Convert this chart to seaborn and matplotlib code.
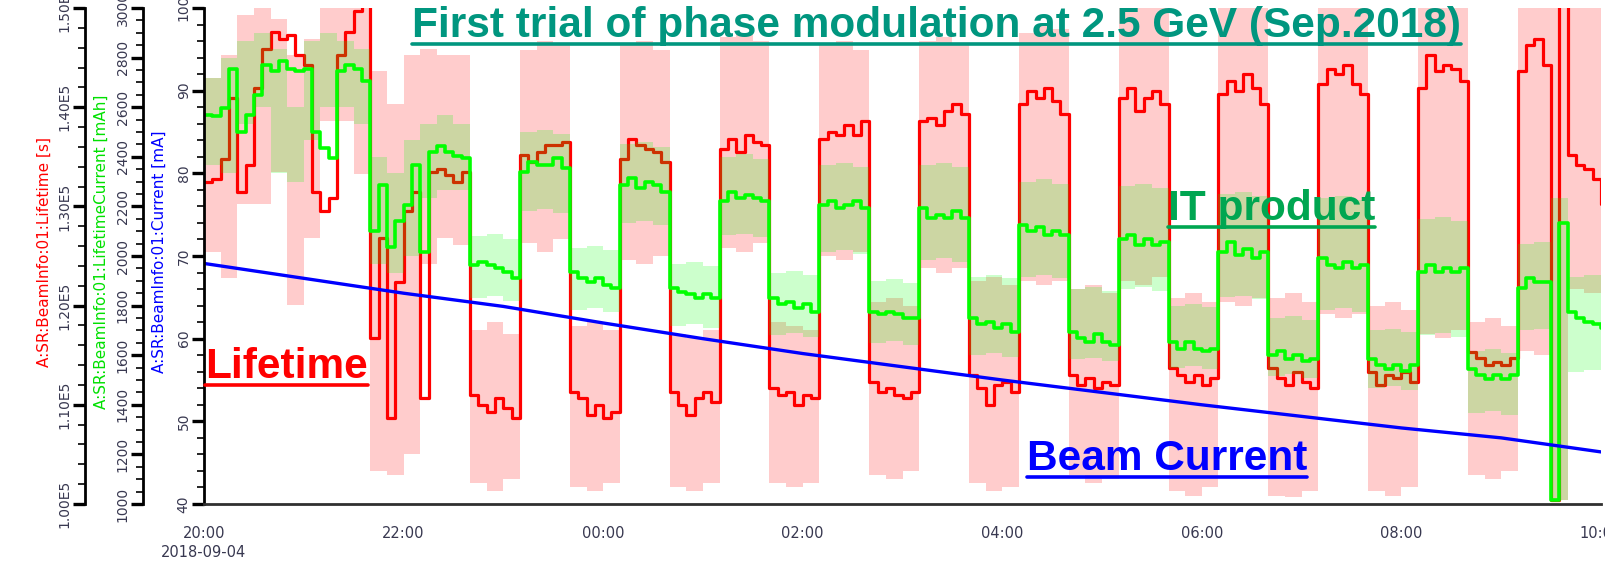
import numpy as np
import pandas as pd
import matplotlib
matplotlib.use('Agg')
import matplotlib.pyplot as plt
import matplotlib.dates as mdates
from matplotlib.lines import Line2D
from matplotlib.ticker import MultipleLocator, FuncFormatter
import seaborn as sns

sns.set_style('white')
plt.rcParams['font.family'] = ['DejaVu Sans']

# Lifetime [ks], one value per 5 min from 20:00 (2018-09-04) to 10:00
lifetime_ks = [
    132.5, 132.8, 134.8, 140.9, 131.5, 134.2,
    141.9, 145.9, 147.6, 146.9, 147.3, 145.3,
    144.3, 131.5, 129.5, 130.8, 145.3, 147.6,
    149.7, 150.8, 116.7, 126.8, 108.7, 122.4,
    129.5, 131.5, 110.7, 133.5, 133.8, 133.2,
    132.5, 133.5,
    111.0, 110.0, 109.3, 110.7, 109.7, 108.7,
    135.2, 134.5, 135.5, 136.2, 136.2, 136.5,
    111.3, 110.7, 109.0, 110.0, 108.7, 109.3,
    134.8, 136.8, 136.2, 135.8, 135.5, 134.5,
    111.3, 110.0, 109.0, 110.7, 111.3, 110.3,
    135.8, 136.8, 135.5, 137.2, 136.5, 136.2,
    111.7, 111.0, 111.3, 110.0, 111.0, 110.7,
    136.8, 137.5, 137.2, 138.2, 137.2, 138.6,
    112.3, 111.3, 111.7, 111.0, 110.7, 111.3,
    138.6, 138.9, 138.2, 139.6, 140.3, 139.3,
    113.0, 111.7, 110.0, 112.0, 112.3, 111.3,
    140.3, 141.6, 140.9, 141.9, 140.6, 139.3,
    113.0, 112.0, 112.7, 111.7, 112.3, 112.0,
    140.9, 141.9, 139.6, 140.9, 141.6, 140.3,
    113.7, 113.0, 112.3, 113.0, 112.0, 112.7,
    141.3, 142.6, 141.6, 143.3, 141.9, 140.3,
    113.7, 112.7, 112.0, 113.3, 112.3, 111.7,
    142.3, 143.9, 143.3, 144.3, 142.3, 141.3,
    113.3, 112.0, 113.0, 112.7, 113.3, 112.3,
    141.9, 145.3, 143.6, 144.3, 143.9, 142.6,
    115.3, 114.7, 114.0, 114.3, 114.0, 114.7,
    143.6, 146.3, 146.9, 144.3, 100.4, 151.7,
    135.2, 134.2, 133.8, 132.8, 130.2,
]

# IT product [mAh], same 5 min grid
it_mah = [
    2570, 2565, 2595, 2755, 2500, 2570,
    2650, 2770, 2745, 2785, 2755, 2745,
    2755, 2500, 2435, 2395, 2745, 2770,
    2755, 2705, 2100, 2285, 2035, 2140,
    2205, 2365, 2015, 2420, 2445, 2420,
    2405, 2395,
    1965, 1975, 1965, 1950, 1935, 1910,
    2340, 2380, 2365, 2365, 2395, 2355,
    1935, 1910, 1895, 1910, 1885, 1870,
    2285, 2315, 2275, 2300, 2285, 2260,
    1870, 1855, 1845, 1830, 1845, 1830,
    2220, 2260, 2235, 2245, 2235, 2220,
    1830, 1805, 1815, 1790, 1805, 1775,
    2205, 2220, 2195, 2205, 2220, 2195,
    1775, 1765, 1775, 1765, 1750, 1750,
    2195, 2155, 2165, 2155, 2180, 2155,
    1750, 1725, 1735, 1710, 1725, 1695,
    2125, 2100, 2115, 2085, 2100, 2085,
    1695, 1670, 1655, 1685, 1655, 1640,
    2070, 2085, 2045, 2070, 2045, 2055,
    1655, 1625, 1655, 1625, 1615, 1625,
    2015, 2055, 2005, 2030, 1990, 2015,
    1600, 1615, 1585, 1600, 1575, 1585,
    1990, 1965, 1950, 1975, 1950, 1965,
    1585, 1560, 1545, 1560, 1535, 1560,
    1935, 1965, 1935, 1950, 1935, 1950,
    1545, 1520, 1505, 1520, 1505, 1520,
    1870, 1910, 1895, 1895, 1015, 2135,
    1775, 1750, 1735, 1725, 1710,
]

# min / max envelopes, one value per 10 min
life_lo_ks = [
    125.4, 122.8, 130.2, 130.2, 133.5, 120.1,
    126.8, 138.6, 138.6, 133.3, 103.3, 102.9,
    105.0, 124.2, 126.8, 126.1, 102.1, 101.3,
    102.5, 126.3, 125.4, 126.7, 101.7, 101.3,
    102.1, 124.6, 124.2, 125.0, 101.7, 101.3,
    102.1, 125.8, 125.4, 126.3, 102.1, 101.7,
    102.1, 125.0, 124.6, 125.4, 102.9, 102.5,
    103.3, 123.8, 123.3, 123.8, 102.1, 101.3,
    101.7, 122.5, 122.1, 122.5, 102.9, 102.1,
    102.5, 122.5, 122.1, 122.9, 101.3, 100.8,
    101.7, 120.4, 120.0, 120.8, 100.8, 100.7,
    101.3, 119.2, 118.8, 119.2, 101.3, 100.8,
    101.7, 117.1, 116.7, 117.5, 102.9, 102.5,
    103.3, 115.4, 115.0, 100.4, 121.7, 121.3,
    121.7,
]
life_hi_ks = [
    142.9, 145.3, 149.3, 150.0, 148.9, 145.3,
    146.9, 150.0, 150.0, 150.0, 143.6, 140.3,
    145.3, 145.9, 145.3, 145.3, 117.5, 118.3,
    117.1, 145.8, 146.7, 146.3, 117.9, 118.3,
    117.5, 146.3, 146.7, 145.8, 117.1, 116.7,
    117.5, 147.1, 147.5, 146.7, 118.3, 117.9,
    117.5, 146.3, 146.7, 145.8, 120.4, 120.8,
    120.0, 146.7, 147.1, 146.3, 122.5, 122.9,
    122.1, 147.5, 148.3, 147.9, 121.7, 122.1,
    121.3, 150.0, 150.0, 150.0, 120.8, 121.3,
    120.4, 150.0, 150.0, 150.0, 120.8, 121.3,
    120.4, 150.0, 150.0, 150.0, 120.0, 120.4,
    119.6, 150.0, 150.0, 150.0, 118.3, 118.8,
    117.9, 150.0, 150.0, 150.0, 150.0, 150.0,
    150.0,
]
it_lo_mah = [
    2367, 2333, 2533, 2600, 2333, 2300,
    2467, 2600, 2600, 2533, 1967, 1933,
    2000, 2233, 2267, 2267, 1830, 1840,
    1820, 2183, 2190, 2175, 1783, 1790,
    1775, 2133, 2140, 2125, 1717, 1725,
    1710, 2083, 2090, 2075, 1683, 1690,
    1675, 2017, 2025, 2010, 1650, 1657,
    1643, 1983, 1990, 1975, 1600, 1607,
    1593, 1917, 1925, 1910, 1583, 1590,
    1577, 1867, 1875, 1860, 1550, 1557,
    1543, 1833, 1840, 1825, 1517, 1525,
    1510, 1783, 1790, 1775, 1467, 1475,
    1460, 1683, 1690, 1675, 1367, 1375,
    1360, 1700, 1707, 1017, 1533, 1540,
    1525,
]
it_hi_mah = [
    2717, 2800, 2867, 2900, 2833, 2600,
    2867, 2900, 2867, 2833, 2400, 2333,
    2467, 2533, 2567, 2533, 2080, 2090,
    2070, 2500, 2510, 2490, 2033, 2040,
    2025, 2450, 2460, 2440, 1967, 1975,
    1960, 2400, 2410, 2390, 1933, 1940,
    1925, 2367, 2375, 2360, 1900, 1907,
    1893, 2367, 2375, 2360, 1917, 1925,
    1910, 2300, 2310, 2290, 1867, 1875,
    1860, 2283, 2290, 2275, 1800, 1807,
    1793, 2250, 2257, 2243, 1750, 1757,
    1743, 2233, 2240, 2225, 1700, 1707,
    1693, 2150, 2157, 2143, 1617, 1625,
    1610, 2050, 2057, 2233, 1917, 1925,
    1910,
]

# beam current [mA], hourly
current_ma = [69.1, 67.3, 65.5, 63.9, 61.9, 60.0, 58.2, 56.6,
              55.0, 53.5, 52.0, 50.6, 49.2, 48.0, 46.3]

tick_times = ['20:00\n2018-09-04', '22:00', '00:00', '02:00', '04:00',
              '06:00', '08:00', '10:00']

start = pd.Timestamp('2018-09-04 20:00')
end = pd.Timestamp('2018-09-05 10:00')
t_line = pd.date_range(start, periods=len(lifetime_ks), freq='5min')
t_band = pd.date_range(start, periods=len(life_lo_ks), freq='10min')
t_cur = pd.date_range(start, periods=len(current_ma), freq='h')

W, H = 1605, 561
fig = plt.figure(figsize=(W / 100, H / 100), dpi=100)
fig.patch.set_facecolor('white')
ax = fig.add_axes([204 / W, 1 - 504 / H, 1397 / W, 496 / H])
ax_life = ax.twinx()
ax_it = ax.twinx()
ax_life.set_zorder(1)
ax_it.set_zorder(2)
ax.set_zorder(3)
for a in (ax, ax_life, ax_it):
    a.patch.set_visible(False)

lbl_col = '#383850'

# lifetime
ax_life.fill_between(t_band, np.array(life_lo_ks) * 1e3, np.array(life_hi_ks) * 1e3,
                     step='post', color='#ff0000', alpha=0.2, lw=0)
sns.lineplot(x=t_line, y=np.array(lifetime_ks) * 1e3, ax=ax_life, color='#ff0000',
             lw=2.3, drawstyle='steps-post', estimator=None)
# IT product
ax_it.fill_between(t_band, it_lo_mah, it_hi_mah, step='post',
                   color='#00ff00', alpha=0.2, lw=0)
sns.lineplot(x=t_line, y=it_mah, ax=ax_it, color='#00ff00', lw=2.6,
             drawstyle='steps-post', estimator=None)
# current
sns.lineplot(x=t_cur, y=current_ma, ax=ax, color='#0000ff', lw=2.4, estimator=None)

ax.set_xlim(start, end)
ax.set_ylim(40, 100)
ax_it.set_ylim(1000, 3000)
ax_life.set_ylim(1.0e5, 1.5e5)

ax.yaxis.set_major_locator(MultipleLocator(10))
ax.yaxis.set_minor_locator(MultipleLocator(2))
ax_it.yaxis.set_major_locator(MultipleLocator(200))
ax_it.yaxis.set_minor_locator(MultipleLocator(50))
ax_life.yaxis.set_major_locator(MultipleLocator(1e4))
ax_life.yaxis.set_minor_locator(MultipleLocator(2e3))
ax_life.yaxis.set_major_formatter(FuncFormatter(lambda v, p: f'{v / 1e5:.2f}E5'))
ax_it.yaxis.set_major_formatter(FuncFormatter(lambda v, p: f'{v:.0f}'))

axes_cfg = [
    (ax, 0.0, -0.0263, 'A:SR:BeamInfo:01:Current [mA]', '#0000ff'),
    (ax_it, -0.0437, -0.0679, 'A:SR:BeamInfo:01:LifetimeCurrent [mAh]', '#00e000'),
    (ax_life, -0.0852, -0.1087, 'A:SR:BeamInfo:01:Lifetime [s]', '#ff0000'),
]
for a, spine_x, lab_x, label, col in axes_cfg:
    a.yaxis.tick_left()
    a.yaxis.set_label_position('left')
    for s in ('top', 'right'):
        a.spines[s].set_visible(False)
    a.spines['left'].set_visible(True)
    a.spines['left'].set_position(('axes', spine_x))
    a.spines['left'].set_color('black')
    a.spines['left'].set_linewidth(2)
    if a is not ax:
        a.spines['bottom'].set_visible(False)
    a.tick_params(axis='y', which='major', direction='out', length=9, width=2.4,
                  color='black', labelsize=10, labelcolor=lbl_col, pad=0.5,
                  labelrotation=90, left=True, right=False)
    a.tick_params(axis='y', which='minor', direction='out', length=5, width=1.2,
                  color='black', left=True, right=False)
    a.set_ylabel(label, color=col, fontsize=11)
    a.yaxis.set_label_coords(lab_x, 0.508)
    plt.setp(a.get_yticklabels(), va='center')

ax.spines['bottom'].set_color('#303030')
ax.spines['bottom'].set_linewidth(2)
ax.set_xlabel('')
major_t = pd.date_range(start, end, freq='2h')
minor_t = pd.date_range(start, end, freq='20min')
ax.set_xticks(mdates.date2num(major_t))
ax.set_xticklabels(tick_times, linespacing=1.35)
ax.set_xticks(mdates.date2num(minor_t), minor=True)
ax.tick_params(axis='x', which='major', direction='out', length=11, width=2.6,
               color='black', labelsize=10.5, labelcolor=lbl_col, pad=5)
ax.tick_params(axis='x', which='minor', direction='out', length=6, width=1.2,
               color='black')

# underlined annotations
notes = [
    (412, 37, 'First trial of phase modulation at 2.5 GeV (Sep.2018)', '#00967f'),
    (1168, 220, 'IT product', '#00a651'),
    (205, 378, 'Lifetime', '#ff0000'),
    (1027, 470, 'Beam Current', '#0000ff'),
]
texts = []
for x, y, s, col in notes:
    t = fig.text(x / W, 1 - y / H, s, color=col, fontsize=30.5, fontweight='bold',
                 family='Liberation Sans', ha='left', va='baseline', zorder=10)
    texts.append((t, y, col))
fig.canvas.draw()
for t, y, col in texts:
    bb = t.get_window_extent()
    fig.add_artist(Line2D([bb.x0 / W, bb.x1 / W], [1 - (y + 7) / H] * 2,
                          transform=fig.transFigure, color=col, lw=2.6, zorder=10))

fig.savefig('out.png', dpi=100, facecolor='white')
